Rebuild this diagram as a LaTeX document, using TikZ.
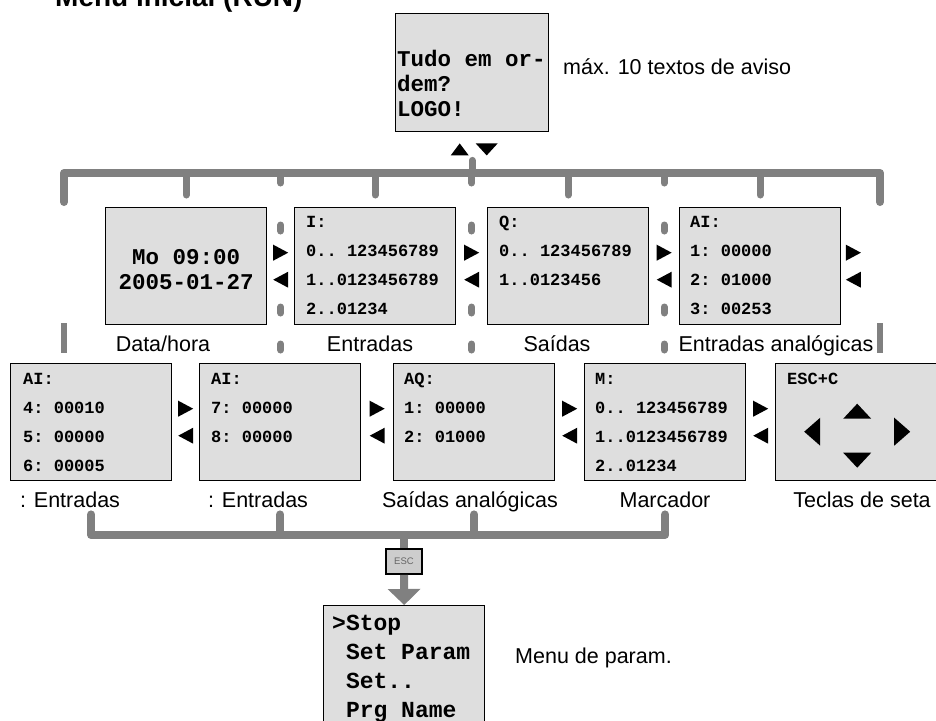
\documentclass[tikz,border=0pt]{standalone}
\usepackage{fontspec}
\setmainfont{Liberation Sans}
\setmonofont{Liberation Mono}
\usetikzlibrary{arrows.meta, calc}

\definecolor{lcdgray}{RGB}{222,222,222}
\definecolor{busgray}{RGB}{128,128,128}
\definecolor{keygray}{RGB}{205,205,205}
\newcommand{\lcdbig}{\ttfamily\bfseries\fontsize{22.5}{25}\selectfont}
\newcommand{\lcdsmall}{\ttfamily\bfseries\fontsize{17}{29}\selectfont}
\newcommand{\lblfont}{\fontsize{21.5}{26}\selectfont}

\begin{document}
\begin{tikzpicture}[
  x=1pt, y=-1pt,
  lcd/.style    = {draw, line width=1.4pt, fill=lcdgray, anchor=north west,
                   minimum width=161pt, minimum height=117pt, inner sep=0pt},
  lcdtxt/.style = {anchor=base west, inner sep=0pt, align=left, font=\lcdsmall},
  lbl/.style    = {anchor=base, inner sep=0pt, font=\lblfont},
  bus/.style    = {busgray, line width=8pt, line cap=round, line join=round},
  stub/.style   = {busgray, line width=7pt, line cap=round},
  nav/.pic      = {\fill (-7.5,-21.5) -- (7.5,-13.5) -- (-7.5,-5.5) -- cycle;
                   \fill (7.5,5.5) -- (-7.5,13.5) -- (7.5,21.5) -- cycle;},
]
  \useasboundingbox (0,0) rectangle (936,720);
  \node[anchor=base west, inner sep=0pt, font=\fontsize{28}{32}\selectfont\bfseries]
    (title) at (55,6) {Menu inicial (RUN)};

  % start screen (text nodes sit on the baseline of their last line)
  \node[lcd, minimum width=153pt, minimum height=118pt] (ok) at (395,13) {};
  \node[lcdtxt, font=\lcdbig] (okT) at (397,116) {Tudo em or-\\dem?\\LOGO!};
  \node[anchor=base west, inner sep=0pt, font=\lblfont] (okL) at (563,74) {máx. 10 textos de aviso};
  \begin{scope}[shift={(ok.south)}]
    \fill (-21.5,23) -- (-12.5,11) -- (-3.5,23) -- cycle;
    \fill (3.5,11) -- (25.5,11) -- (14.5,23) -- cycle;
  \end{scope}

  % first row
  \node[lcd] (dt)   at (105,207) {};
  \node[lcd] (inp)  at (294,207) {};
  \node[lcd] (outp) at (487,207) {};
  \node[lcd] (ain)  at (679,207) {};
  \node[align=center, inner sep=0pt, font=\lcdbig] (dtT) at ($(dt.center)+(0,3)$) {Mo 09:00\\2005-01-27};
  \node[lcdtxt] (inpT)  at ($(inp.north west)+(12,107)$) {I:\\0.. 123456789\\1..0123456789\\2..01234};
  \node[lcdtxt] (outpT) at ($(outp.north west)+(12,78)$) {Q:\\0.. 123456789\\1..0123456};
  \node[lcdtxt] (ainT)  at ($(ain.north west)+(11,107)$) {AI:\\1: 00000\\2: 01000\\3: 00253};
  \node[lbl] (dtL)   at (163,351) {Data/hora};
  \node[lbl] (inpL)  at (370,351) {Entradas};
  \node[lbl] (outpL) at (557,351) {Saídas};
  \node[lbl] (ainL)  at (776,351) {Entradas analógicas};

  \coordinate (busT) at (0,173);
  \coordinate (tl) at (64,202);
  \coordinate (tr) at (880,202);
  \draw[bus] (tl) -- (tl |- busT) -- (tr |- busT) -- (tr);
  \draw[stub] ($(ok.south)+(0,28)$) -- (ok.south |- busT);
  \foreach \b in {dt,inp,outp,ain}
    \draw[stub] (\b.north |- busT) -- ($(\b.north)+(0,-12)$);
  \foreach \a/\b in {dt/inp,inp/outp,outp/ain} {
    \coordinate (m) at ($(\a.north east)!.5!(\b.north west)$);
    \draw[stub] (m |- busT) -- ($(m)+(0,-24)$);
    \foreach \d in {21,103,140}
      \draw[stub] ($(m)+(0,\d-3)$) -- ($(m)+(0,\d+3)$);
    \pic at ($(\a.east)!.5!(\b.west)$) {nav};
  }
  \pic at ($(ain.east)+(12,0)$) {nav};
  \draw[busgray, line width=6pt] ($(tl)+(0,121)$) -- ($(tl)+(0,151)$);
  \draw[busgray, line width=6pt] ($(tr)+(0,121)$) -- ($(tr)+(0,151)$);

  % second row
  \node[lcd] (ai4)  at (10,363)  {};
  \node[lcd] (ai7)  at (199,363) {};
  \node[lcd] (aq)   at (393,363) {};
  \node[lcd] (mk)   at (584,363) {};
  \node[lcd] (keys) at (775,363) {};
  \node[lcdtxt] (ai4T)  at ($(ai4.north west)+(13,108)$) {AI:\\4: 00010\\5: 00000\\6: 00005};
  \node[lcdtxt] (ai7T)  at ($(ai7.north west)+(12,79)$)  {AI:\\7: 00000\\8: 00000};
  \node[lcdtxt] (aqT)   at ($(aq.north west)+(11,79)$)   {AQ:\\1: 00000\\2: 01000};
  \node[lcdtxt] (mkT)   at ($(mk.north west)+(11,108)$)  {M:\\0.. 123456789\\1..0123456789\\2..01234};
  \node[lcdtxt] (keysT) at ($(keys.north west)+(12,21)$) {ESC+C};
  \begin{scope}[shift={(keys.center)}]
    \fill (-13,-3.5) -- (1,-18.5) -- (15,-3.5) -- cycle;
    \fill (-13,30.5) -- (15,30.5) -- (1,45.5) -- cycle;
    \fill (-36,-4.5) -- (-52,9.5) -- (-36,23.5) -- cycle;
    \fill (38,-4.5) -- (54,9.5) -- (38,23.5) -- cycle;
  \end{scope}
  \foreach \a/\b in {ai4/ai7,ai7/aq,aq/mk,mk/keys}
    \pic at ($(\a.east)!.5!(\b.west)$) {nav};
  \node[lbl] (ai4L)  at (70,507)  {: Entradas};
  \node[lbl] (ai7L)  at (258,507) {: Entradas};
  \node[lbl] (aqL)   at (470,507) {Saídas analógicas};
  \node[lbl] (mkL)   at (665,507) {Marcador};
  \node[lbl] (keysL) at (862,507) {Teclas de seta};

  % ESC to the parameter menu
  \coordinate (busB) at (0,535);
  \node[draw, line width=1.6pt, fill=keygray, minimum width=36pt, minimum height=25pt,
        inner sep=0pt, font=\fontsize{9.5}{10}\selectfont, text=gray!80!black] (esc) at (404,561.5) {ESC};
  \node[lcd, minimum height=130pt] (menu) at (323,605) {};
  \node[lcdtxt, font=\ttfamily\bfseries\fontsize{23}{29}\selectfont] (menuT)
    at ($(menu.north west)+(9,112)$) {>Stop\\\ Set Param\\\ Set..\\\ Prg Name};
  \node[anchor=base west, inner sep=0pt, font=\lblfont] (menuL) at (515,663) {Menu de param.};

  \draw[bus] ($(ai4.south)+(0,33)$) -- (ai4.south |- busB) -- (mk.south |- busB) -- ($(mk.south)+(0,33)$);
  \foreach \b in {ai7,aq}
    \draw[bus] ($(\b.south)+(0,33)$) -- (\b.south |- busB);
  \draw[bus, line cap=butt] (esc.north |- busB) -- (esc.north);
  \draw[busgray, line width=8pt, -{Triangle[length=16pt, width=32pt]}] (esc.south) -- (menu.north);
\end{tikzpicture}
\end{document}
